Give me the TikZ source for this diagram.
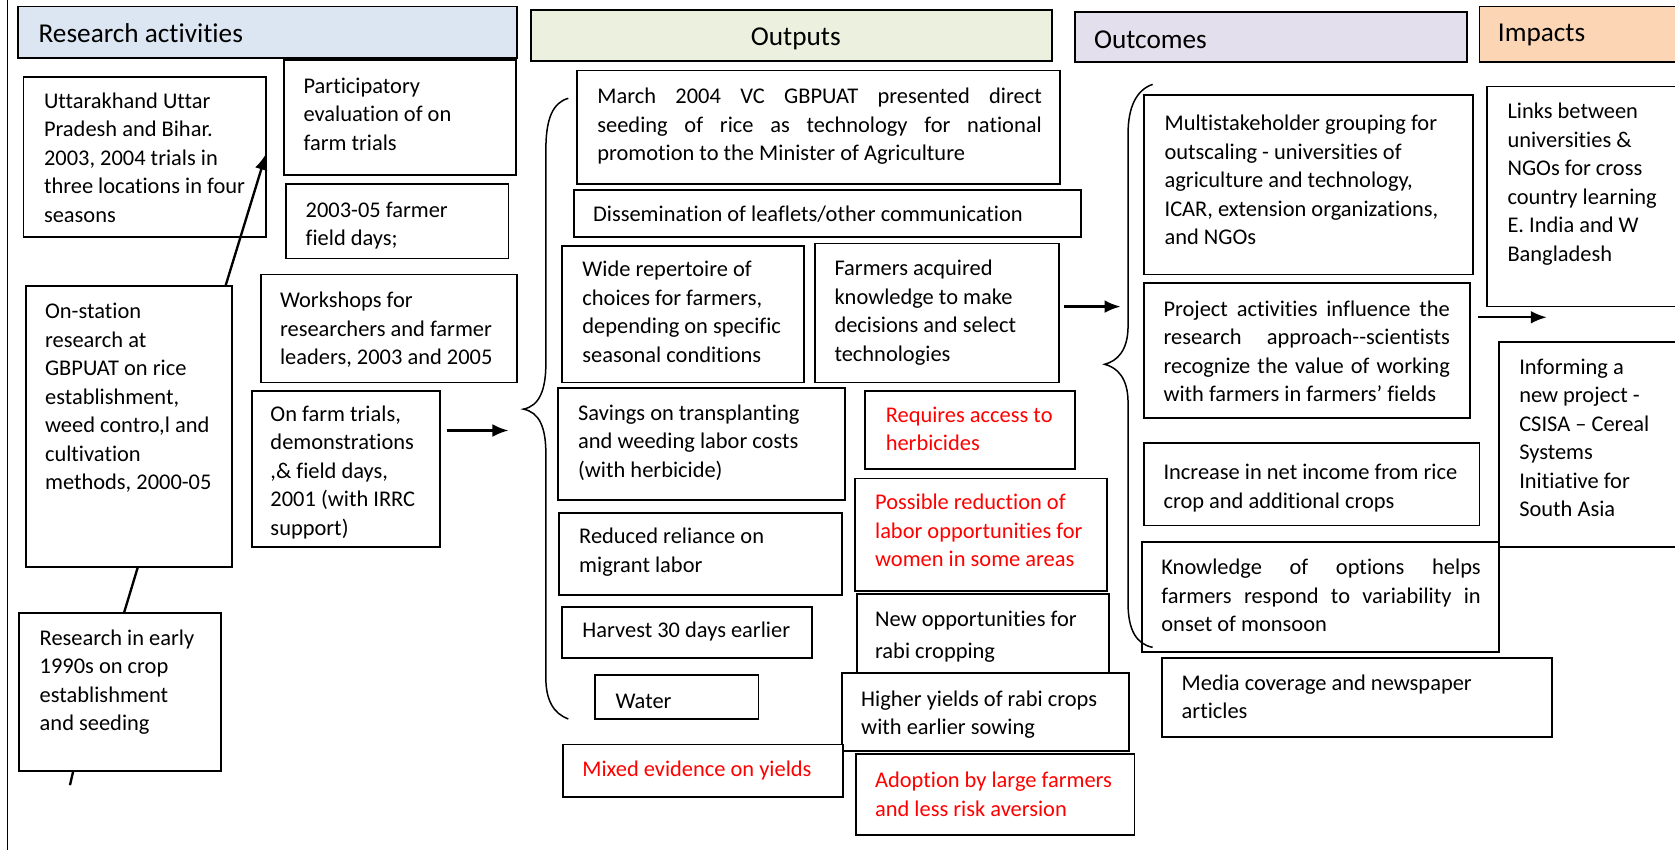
\documentclass[tikz,border=0pt]{standalone}
\usepackage{fontspec}
\setmainfont{Carlito}[Ligatures={NoCommon}]
\usetikzlibrary{arrows.meta,calc}

\definecolor{hdrblue}{HTML}{DCE6F2}
\definecolor{hdrgreen}{HTML}{EBF1DE}
\definecolor{hdrlilac}{HTML}{E4DFEC}
\definecolor{hdrpeach}{HTML}{FCD5B5}
\definecolor{warnred}{HTML}{FF0000}

\tikzset{
  box/.style={draw, fill=white, line width=1.7pt, anchor=north west, inner sep=0pt, outer sep=0pt},
  txt/.style={anchor=north west, inner sep=0pt, align=left, font=\fontsize{21}{26.7}\selectfont},
  hdr/.style={draw, line width=1.7pt, anchor=north west, inner sep=0pt, outer sep=0pt},
  htxt/.style={inner sep=0pt, font=\fontsize{25.5}{30}\selectfont},
  brc/.style={line width=1.4pt},
  arr/.style={line width=2.2pt, -{Latex[length=15pt,width=12pt]}},
  link/.style={line width=2.2pt},
  warn/.style={text=warnred}
}

% name, x1, y1, x2, y2, text x, first-line y, text style, text
\newcommand\tbox[9]{%
  \node[box, minimum width={#4-#2}, minimum height={#5-#3}] (#1) at (#2,#3) {};
  \node[txt, #8] (#1-t) at (#6,#7-11.7) {\strut #9};
}
\newcommand\jl[2]{\makebox[#1pt][s]{#2}}

\begin{document}
\begin{tikzpicture}[x=1pt,y=-1pt]
\useasboundingbox (0,0) rectangle (1568,795);
\clip (0,0) rectangle (1568,795);
\fill[white] (0,0) rectangle (1568,795);

% page rule on the left
\draw[line width=1.4pt] (7,-2) -- (7,800);

% column headers
\node[hdr, fill=hdrblue, minimum width=467, minimum height=48] (hra) at (17,6) {};
\node[htxt, anchor=base west] (hra-t) at (36,40) {Research activities};
\node[hdr, fill=hdrgreen, minimum width=488, minimum height=48] (hout) at (497,9) {};
\node[htxt, anchor=base] (hout-t) at (745,43) {Outputs};
\node[hdr, fill=hdrlilac, minimum width=367, minimum height=47] (hoc) at (1006,11) {};
\node[htxt, anchor=base west] (hoc-t) at (1024,45) {Outcomes};
\node[hdr, fill=hdrpeach, minimum width=230, minimum height=52] (himp) at (1385,6) {};
\node[htxt, anchor=base west] (himp-t) at (1402,39) {Impacts};

% research activities
\tbox{utt}{22}{72}{249}{222}{41}{94}{}{Uttarakhand Uttar\\Pradesh and Bihar.\\2003, 2004 trials in\\three locations in four\\seasons}
\tbox{part}{266}{56}{483}{164}{284}{80}{}{Participatory\\evaluation of on\\farm trials}
\tbox{ffd}{268}{172}{476}{242}{286}{196}{}{2003-05 farmer\\field days;}
\tbox{work}{244}{257}{484}{358}{262}{281}{}{Workshops for\\researchers and farmer\\leaders, 2003 and 2005}
\tbox{onfarm}{236}{366}{412}{512}{253}{387}{}{On farm trials,\\demonstrations\\,\& field days,\\2001 (with IRRC\\support)}
\tbox{onst}{24}{268}{217}{531}{42}{291}{}{On-station\\research at\\GBPUAT on rice\\establishment,\\weed contro,l and\\cultivation\\methods, 2000-05}
\tbox{early}{18}{574}{207}{722}{37}{597}{}{Research in early\\1990s on crop\\establishment\\and seeding}

% outputs
\tbox{march}{540}{66}{992}{172}{559}{90}{}{\jl{416}{March 2004 VC GBPUAT presented direct}\\\jl{416}{seeding of rice as technology for national}\\promotion to the Minister of Agriculture}
\tbox{diss}{537}{178}{1012}{222}{555}{200}{}{Dissemination of leaflets/other communication}
\tbox{wide}{526}{230}{753}{358}{545}{252}{}{Wide repertoire of\\choices for farmers,\\depending on specific\\seasonal conditions}
\tbox{farm}{763}{228}{991}{358}{781}{251}{}{Farmers acquired\\knowledge to make\\decisions and select\\technologies}
\tbox{sav}{522}{363}{791}{468}{541}{386}{}{Savings on transplanting\\and weeding labor costs\\(with herbicide)}
\tbox{req}{810}{366}{1006}{439}{829}{388}{warn}{Requires access to\\herbicides}
\tbox{rel}{523}{480}{788}{557}{542}{502}{}{Reduced reliance on\\migrant labor}
\tbox{poss}{800}{448}{1036}{553}{819}{470}{warn}{Possible reduction of\\labor opportunities for\\women in some areas}
\tbox{harv}{526}{568}{760}{616}{545}{590}{}{Harvest 30 days earlier}
\tbox{newop}{802}{556}{1038}{630}{819}{579}{}{New opportunities for\\[4pt]rabi cropping}
\tbox{water}{557}{632}{710}{673}{576}{656}{}{Water}
\tbox{high}{788}{630}{1057}{703}{806}{654}{}{Higher yields of rabi crops\\with earlier sowing}
\tbox{mixed}{527}{697}{789}{746}{545}{720}{warn}{Mixed evidence on yields}
\tbox{adopt}{801}{706}{1062}{782}{819}{730}{warn}{Adoption by large farmers\\and less risk aversion}

% outcomes
\tbox{multi}{1071}{89}{1379}{257}{1090}{115}{}{Multistakeholder grouping for\\outscaling - universities of\\agriculture and technology,\\ICAR, extension organizations,\\and NGOs}
\tbox{proj}{1071}{265}{1376}{391}{1089}{289}{}{\jl{268}{Project activities influence the}\\\jl{268}{research approach-{}-scientists}\\\jl{268}{recognize the value of working}\\with farmers in farmers’ fields}
\tbox{inc}{1071}{415}{1385}{492}{1089}{442}{}{Increase in net income from rice\\crop and additional crops}
\tbox{know}{1069}{507}{1403}{610}{1087}{531}{}{\jl{299}{Knowledge of options helps}\\\jl{299}{farmers respond to variability in}\\onset of monsoon}
\tbox{media}{1088}{616}{1453}{690}{1106}{639}{}{Media coverage and newspaper\\articles}

% impacts
\tbox{links}{1392}{81}{1610}{287}{1411}{104}{}{Links between\\universities \&\\NGOs for cross\\country learning\\E. India and W\\Bangladesh}
\tbox{inform}{1403}{320}{1610}{512}{1422}{343}{}{Informing a\\new project -\\CSISA – Cereal\\Systems\\Initiative for\\South Asia}

% grouping braces
\draw[brc] (532,92) .. controls (518,96) and (511,110) .. (511,140) -- (511,340)
  .. controls (511,365) and (505,380) .. (490,383)
  .. controls (505,386) and (511,400) .. (511,425) -- (511,635)
  .. controls (511,655) and (518,668) .. (532,673);
\draw[brc] (1079,79) .. controls (1064,84) and (1056,100) .. (1056,125) -- (1056,305)
  .. controls (1056,328) and (1046,338) .. (1034,341)
  .. controls (1046,344) and (1056,354) .. (1056,377) -- (1056,565)
  .. controls (1056,590) and (1064,603) .. (1079,606);

% connectors
\coordinate (obr) at (476,403);
\coordinate (ocb) at (1049,287);
\coordinate (imp) at (1448,297);
\coordinate (tail) at (65.5,735);
\draw[arr] ($(onst.north east)+(-6,0)$) -- ($(utt.south east)+(0,-78)$);
\draw[link] ($(onst.south west)+(105,0)$) -- ($(early.north west)+(98,0)$);
\draw[link] ($(early.south west)+(50.5,0)$) -- (tail);
\draw[arr] ($(onfarm.north east)+(6,37)$) -- (obr);
\draw[arr] ($(farm.north east)+(5,59)$) -- (ocb);
\draw[arr] ($(proj.north east)+(8,32)$) -- (imp);
\end{tikzpicture}
\end{document}
